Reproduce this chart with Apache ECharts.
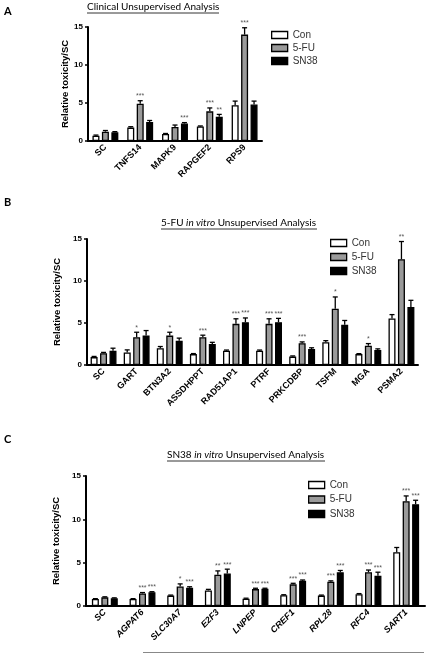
<!DOCTYPE html>
<html><head><meta charset="utf-8">
<script src="https://cdn.jsdelivr.net/npm/echarts@6/dist/echarts.min.js"></script>
<style>html,body{margin:0;padding:0;background:#fff}#c{width:429px;height:654px}</style>
</head><body><div id="c"></div>
<script>
// ---------- Panel A: Clinical Unsupervised Analysis ----------
const catsA = ['SC','TNFS14','MAPK9','RAPGEF2','RPS9'];
const conA = [0.7, 1.76, 0.93, 1.9, 4.7];
const fuA  = [1.23, 4.9, 1.85, 3.9, 14.0];
const snA  = [1.15, 2.5, 2.3, 3.2, 4.8];
const conErrA = [0.08, 0.12, 0.06, 0.08, 0.55];
const fuErrA  = [0.15, 0.4, 0.25, 0.45, 0.9];
const snErrA  = [0.08, 0.2, 0.12, 0.3, 0.45];
const conSigA = ['','','','',''];
const fuSigA  = ['','***','','***','***'];
const snSigA  = ['','','***','**',''];

// ---------- Panel B: 5-FU in vitro Unsupervised Analysis ----------
const catsB = ['SC','GART','BTN3A2','ASSDHPPT','RAD51AP1','PTRF','PRKCDBP','TSFM','MGA','PSMA2'];
const conB = [0.94, 1.5, 2.0, 1.3, 1.7, 1.7, 1.0, 2.7, 1.3, 5.55];
const fuB  = [1.4, 3.3, 3.5, 3.3, 4.9, 4.9, 2.6, 6.7, 2.3, 12.6];
const snB  = [1.7, 3.5, 2.9, 2.5, 5.1, 5.1, 1.9, 4.8, 1.8, 6.9];
const conErrB = [0.08, 0.3, 0.2, 0.06, 0.08, 0.08, 0.08, 0.2, 0.05, 0.45];
const fuErrB  = [0.1, 0.6, 0.4, 0.25, 0.6, 0.6, 0.15, 1.4, 0.25, 2.1];
const snErrB  = [0.3, 0.6, 0.3, 0.2, 0.5, 0.45, 0.15, 0.5, 0.12, 0.8];
const conSigB = ['','','','','','','','','',''];
const fuSigB  = ['','*','*','***','***','***','***','*','*','**'];
const snSigB  = ['','','','','***','***','','','',''];

// ---------- Panel C: SN38 in vitro Unsupervised Analysis ----------
const catsC = ['SC','AGPAT6','SLC30A7','E2F3','LNPEP','CREF1','RPL28','RFC4','SART1'];
const conC = [0.8, 0.8, 1.2, 1.8, 0.85, 1.25, 1.2, 1.35, 6.2];
const fuC  = [1.0, 1.45, 2.25, 3.6, 1.95, 2.5, 2.8, 3.9, 12.1];
const snC  = [0.9, 1.6, 2.1, 3.75, 2.0, 2.9, 3.9, 3.5, 11.75];
const conErrC = [0.05, 0.05, 0.06, 0.12, 0.05, 0.05, 0.06, 0.08, 0.55];
const fuErrC  = [0.06, 0.1, 0.3, 0.45, 0.1, 0.12, 0.1, 0.25, 0.6];
const snErrC  = [0.04, 0.05, 0.12, 0.5, 0.05, 0.1, 0.2, 0.4, 0.45];
const conSigC = ['','','','','','','','',''];
const fuSigC  = ['','***','*','**','***','***','***','***','***'];
const snSigC  = ['','***','***','***','***','***','***','***','***'];

const yTicks = [0, 5, 10, 15];
const seriesNames = ['Con','5-FU','SN38'];
const fills = ['#ffffff','#9a9a9a','#000000'];

const BAR_W = 7, BAR_GAP = 0.35, STEP = BAR_W * (1 + BAR_GAP);
const FONT = "'Liberation Sans', Arial, sans-serif";

const panels = [
  {cats:catsA, vals:[conA,fuA,snA], errs:[conErrA,fuErrA,snErrA], sigs:[conSigA,fuSigA,snSigA],
   grid:{left:88, right:167, top:27, bottom:513}, legend:{left:271, top:29, gap:1}, nameGap:15, labelItalic:false},
  {cats:catsB, vals:[conB,fuB,snB], errs:[conErrB,fuErrB,snErrB], sigs:[conSigB,fuSigB,snSigB],
   grid:{left:87, right:11, top:239, bottom:289}, legend:{left:330, top:237, gap:2}, nameGap:18, labelItalic:false},
  {cats:catsC, vals:[conC,fuC,snC], errs:[conErrC,fuErrC,snErrC], sigs:[conSigC,fuSigC,snSigC],
   grid:{left:86, right:4, top:476, bottom:48}, legend:{left:308, top:479, gap:2.5}, nameGap:15, labelItalic:true}
];

const grids = [], xAxes = [], yAxes = [], series = [], legends = [];
panels.forEach((p, pi) => {
  grids.push(p.grid);
  xAxes.push({
    type:'category', gridIndex:pi, data:p.cats,
    axisLine:{lineStyle:{color:'#000', width:2}},
    axisTick:{alignWithLabel:true, length:3, lineStyle:{width:1.5, color:'#000'}},
    axisLabel:{rotate:45, margin:5, fontSize:9, fontWeight:'bold', fontFamily:FONT, color:'#000',
               fontStyle: p.labelItalic ? 'italic' : 'normal', interval:0}
  });
  yAxes.push({
    type:'value', gridIndex:pi, min:yTicks[0], max:yTicks[yTicks.length-1], interval:yTicks[1]-yTicks[0],
    name:'Relative toxicity/SC', nameLocation:'middle', nameGap:p.nameGap, nameRotate:90,
    nameTextStyle:{fontSize:9.5, fontWeight:'bold', fontFamily:FONT, color:'#000'},
    axisLine:{show:true, lineStyle:{color:'#000', width:2}},
    axisTick:{show:true, length:3, lineStyle:{width:1.5, color:'#000'}},
    axisLabel:{margin:5, fontSize:8, fontWeight:'bold', fontFamily:FONT, color:'#000'},
    splitLine:{show:false}
  });
  seriesNames.forEach((nm, k) => {
    series.push({
      type:'bar', name:nm, xAxisIndex:pi, yAxisIndex:pi, data:p.vals[k],
      barWidth:BAR_W, barGap:(BAR_GAP*100)+'%',
      itemStyle:{color:fills[k], borderColor:'#000', borderWidth:1.3},
      silent:true, animation:false
    });
  });
  seriesNames.forEach((nm, k) => {
    const off = k - 1, sig = p.sigs[k];
    series.push({
      type:'custom', name:nm + ' err', xAxisIndex:pi, yAxisIndex:pi, animation:false, silent:true, z:5,
      data:p.cats.map((c, i) => [i, p.vals[k][i], p.errs[k][i]]),
      renderItem:(params, api) => {
        const base = api.coord([api.value(0), api.value(1)]);
        const top = api.coord([api.value(0), api.value(1) + api.value(2)]);
        const x = base[0] + off * STEP;
        const ch = [
          {type:'line', shape:{x1:x, y1:base[1], x2:x, y2:top[1]}, style:{stroke:'#000', lineWidth:1.3}},
          {type:'line', shape:{x1:x-2.5, y1:top[1], x2:x+2.5, y2:top[1]}, style:{stroke:'#000', lineWidth:1.3}}
        ];
        const s = sig[params.dataIndex];
        if (s) ch.push({type:'text', style:{text:s, x:x, y:top[1]-1, align:'center', verticalAlign:'bottom',
                        fontSize:7, fontFamily:FONT, fill:'#555'}});
        return {type:'group', children:ch};
      }
    });
  });
  legends.push({
    data:seriesNames, orient:'vertical', left:p.legend.left, top:p.legend.top, itemGap:p.legend.gap,
    itemWidth:16, itemHeight:7, icon:'rect', selectedMode:false, padding:0,
    itemStyle:{borderColor:'#000', borderWidth:1.3},
    textStyle:{fontSize:10, color:'#333', fontFamily:FONT, lineHeight:12}
  });
});

const titleFont = "Lato, 'Open Sans', sans-serif";
const titles = [
  {text:'Clinical Unsupervised Analysis', left:87, top:2},
  {text:'{n|5-FU }{i|in vitro}{n| Unsupervised Analysis}', left:161, top:218},
  {text:'{n|SN38 }{i|in vitro}{n| Unsupervised Analysis}', left:167, top:450}
].map(t => ({text:t.text, left:t.left, top:t.top, padding:0,
  textStyle:{fontSize:10, fontWeight:'normal', color:'#000', fontFamily:titleFont,
    rich:{n:{fontSize:10, fontFamily:titleFont, color:'#000'}, i:{fontSize:10, fontStyle:'italic', fontFamily:titleFont, color:'#000'}}}}));
['A','B','C'].forEach((L, i) => titles.push({text:L, left:4, top:[6, 197, 434][i], padding:0,
  textStyle:{fontSize:11, fontWeight:'bold', color:'#000', fontFamily:titleFont}}));

const chart = echarts.init(document.getElementById('c'), null, {renderer:'canvas'});
chart.setOption({
  animation:false,
  title:titles,
  grid:grids, xAxis:xAxes, yAxis:yAxes, series:series, legend:legends,
  graphic:[
    {type:'line', shape:{x1:87, y1:13, x2:219, y2:13}, style:{stroke:'#000', lineWidth:0.8}},
    {type:'line', shape:{x1:161, y1:229, x2:317, y2:229}, style:{stroke:'#000', lineWidth:0.8}},
    {type:'line', shape:{x1:167, y1:461, x2:325, y2:461}, style:{stroke:'#000', lineWidth:0.8}},
    {type:'line', shape:{x1:143, y1:652.5, x2:424, y2:652.5}, style:{stroke:'#888', lineWidth:1}}
  ]
});
</script></body></html>
